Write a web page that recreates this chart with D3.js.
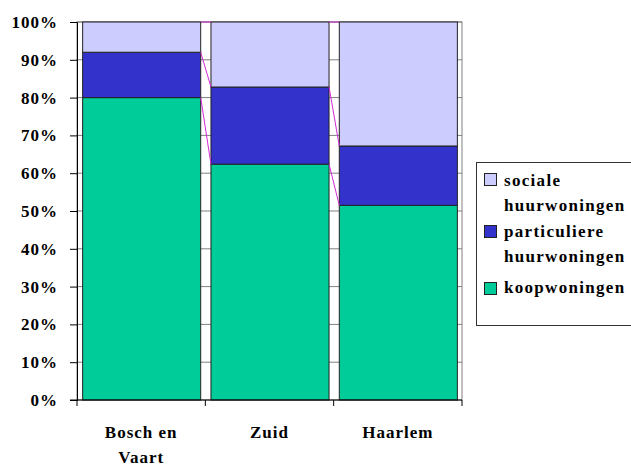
<!DOCTYPE html>
<html>
<head>
<meta charset="utf-8">
<script src="https://cdn.jsdelivr.net/npm/d3@7"></script>
<style>
  body { margin: 0; background: #fff; }
</style>
</head>
<body>
<div id="chart"></div>
<script>
// Datos
let categories = ['Bosch en Vaart', 'Zuid', 'Haarlem'];
let categoryLines = [['Bosch en', 'Vaart'], ['Zuid'], ['Haarlem']];
let koopwoningen = [80, 62.4, 51.5];
let particuliere = [12, 20.4, 15.7];
let sociale = [8, 17.2, 32.8];
let yTicks = [0, 10, 20, 30, 40, 50, 60, 70, 80, 90, 100];
let legendOrder = [['sociale', 'huurwoningen'], ['particuliere', 'huurwoningen'], ['koopwoningen']];
let colors = ['#00cc99', '#3333cc', '#ccccff'];

let fontFam = "'Liberation Serif', 'DejaVu Serif', 'Times New Roman', serif";

let rows = categories.map(function(c, i) {
    return { cat: c, k: koopwoningen[i], p: particuliere[i], s: sociale[i] };
});

let svg = d3.select('#chart').append('svg')
    .attr('width', 631)
    .attr('height', 466);

let plotL = 77, plotR = 462, plotT = 22, plotB = 400;

//Escalas
let x = d3.scaleBand().domain(categories).range([plotL, plotR]);
let y = d3.scaleLinear().domain([0, 100]).range([plotB, plotT]);
let barW = x.bandwidth() * 0.92;
let barX = function(c) { return x(c) + (x.bandwidth() - barW) / 2 + 0.5; };

function styleText(sel, spacing) {
    sel.style('font-family', fontFam)
        .style('font-weight', 'bold')
        .style('font-size', '17px')
        .style('letter-spacing', spacing || '1px')
        .attr('fill', '#000');
}

//Fondo y rejilla
svg.append('rect')
    .attr('x', plotL).attr('y', plotT)
    .attr('width', plotR - plotL).attr('height', plotB - plotT)
    .attr('fill', '#fff').attr('stroke', '#808080');

svg.append('g').selectAll('line')
    .data(yTicks.filter(function(d) { return d > 0; }))
    .enter().append('line')
    .attr('x1', plotL).attr('x2', plotR)
    .attr('y1', function(d) { return y(d); }).attr('y2', function(d) { return y(d); })
    .attr('stroke', '#808080');

//Barras apiladas
let stack = d3.stack().keys(['k', 'p', 's'])(rows);

svg.append('g').selectAll('g')
    .data(stack)
    .enter().append('g')
    .attr('fill', function(d, i) { return colors[i]; })
    .selectAll('rect')
    .data(function(d) { return d; })
    .enter().append('rect')
    .attr('x', function(d) { return barX(d.data.cat); })
    .attr('width', barW)
    .attr('y', function(d) { return y(d[1]); })
    .attr('height', function(d) { return y(d[0]) - y(d[1]); })
    .attr('stroke', '#222')
    .attr('stroke-width', 1);

//Líneas de serie
stack.forEach(function(s) {
    for (let j = 0; j < s.length - 1; j++) {
        svg.append('line')
            .attr('x1', barX(s[j].data.cat) + barW)
            .attr('y1', y(s[j][1]))
            .attr('x2', barX(s[j + 1].data.cat))
            .attr('y2', y(s[j + 1][1]))
            .attr('stroke', '#d42ad4')
            .attr('stroke-width', 1);
    }
});

//Eje Y
let yAxis = svg.append('g')
    .attr('transform', 'translate(' + plotL + ',0)')
    .call(d3.axisLeft(y).tickValues(yTicks).tickSize(7).tickPadding(12).tickFormat(function(d) { return d + '%'; }));
yAxis.select('.domain').attr('stroke', '#000');
yAxis.selectAll('.tick line').attr('stroke', '#000');
yAxis.selectAll('text').call(styleText);

//Eje X
let xAxis = svg.append('g')
    .attr('transform', 'translate(0,' + plotB + ')');
xAxis.append('line')
    .attr('x1', plotL - 7).attr('x2', plotR)
    .attr('stroke', '#000');
xAxis.selectAll('.xt')
    .data(categories.concat(['end']))
    .enter().append('line')
    .attr('x1', function(d) { return d === 'end' ? plotR : x(d); })
    .attr('x2', function(d) { return d === 'end' ? plotR : x(d); })
    .attr('y1', 0).attr('y2', 6)
    .attr('stroke', '#000');

categories.forEach(function(c, i) {
    let t = xAxis.append('text')
        .attr('text-anchor', 'middle')
        .call(styleText);
    categoryLines[i].forEach(function(line, k) {
        t.append('tspan')
            .attr('x', x(c) + x.bandwidth() / 2)
            .attr('y', 38 + k * 25)
            .text(line);
    });
});

//Leyenda
let legend = svg.append('g');
legend.append('rect')
    .attr('x', 476.5).attr('y', 162.5)
    .attr('width', 170).attr('height', 163)
    .attr('fill', '#fff').attr('stroke', '#333');

let legendColors = [colors[2], colors[1], colors[0]];
let swatchY = [173, 225, 282];
let textY = [[186, 211], [237, 262], [293]];
legendOrder.forEach(function(lines, i) {
    legend.append('rect')
        .attr('x', 484.5).attr('y', swatchY[i] + 0.5)
        .attr('width', 12).attr('height', 12)
        .attr('fill', legendColors[i]).attr('stroke', '#222');
    lines.forEach(function(line, k) {
        legend.append('text')
            .attr('x', 504).attr('y', textY[i][k])
            .call(styleText, '1.3px')
            .text(line);
    });
});
</script>
</body>
</html>
